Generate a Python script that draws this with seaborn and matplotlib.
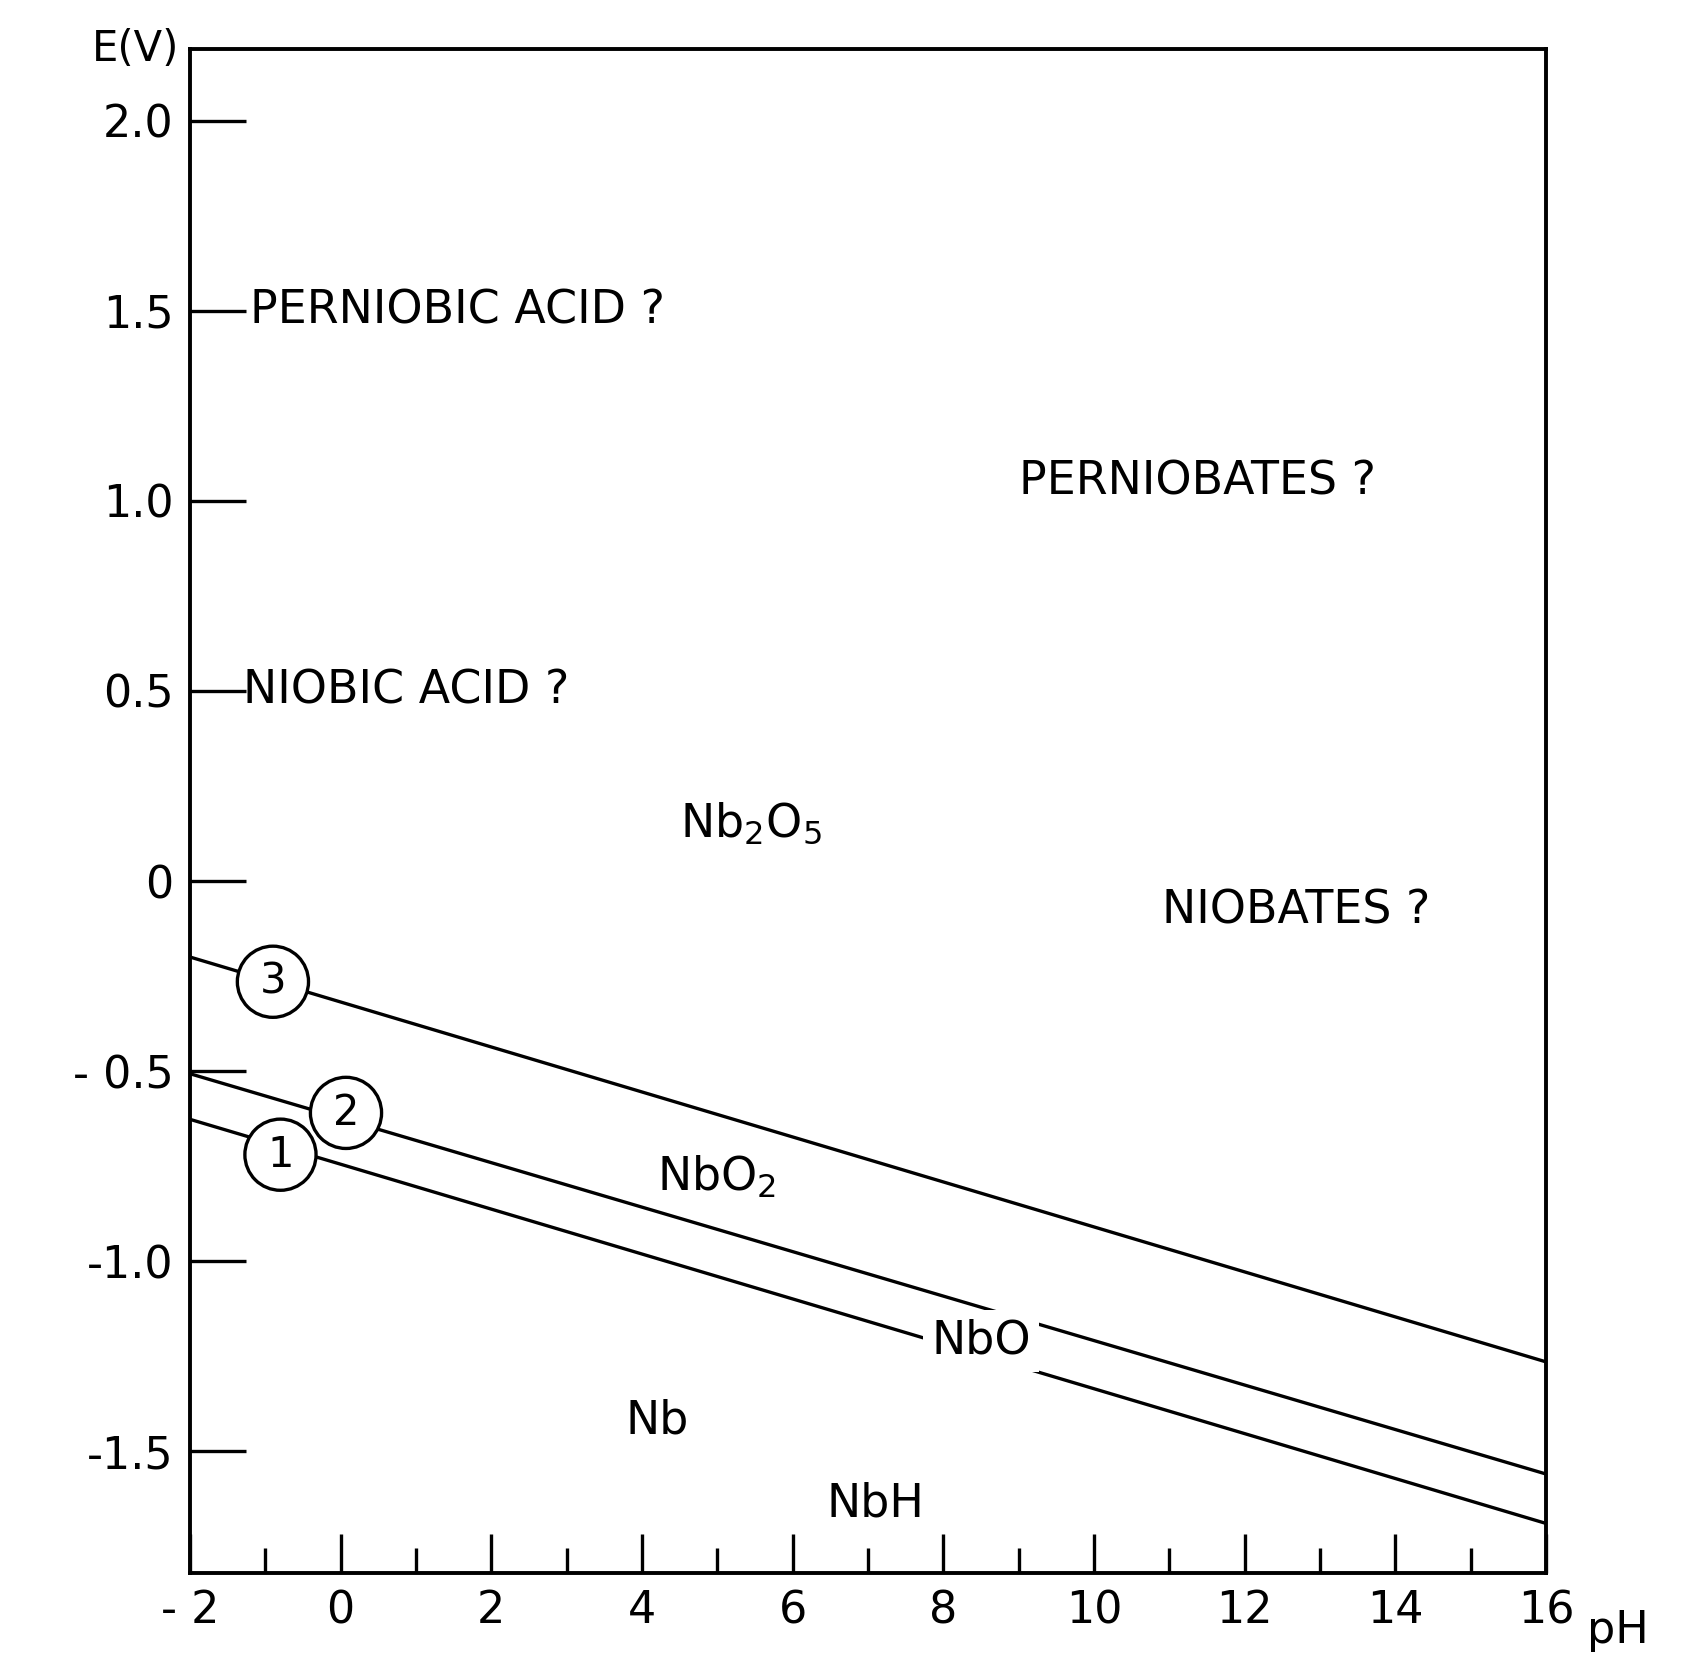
import numpy as np
import matplotlib
matplotlib.use("Agg")
import matplotlib.pyplot as plt
import seaborn as sns
import pandas as pd

sns.set_theme(style="white")
plt.rcParams['font.family'] = ['DejaVu Sans']
plt.rcParams['text.color'] = 'black'

ph = [-2, 16]
line1 = [-0.627, -1.69]
line2 = [-0.507, -1.56]
line3 = [-0.20, -1.265]
xtick_vals = list(range(-2, 17, 2))
xtick_labels = ["- 2", "0", "2", "4", "6", "8", "10", "12", "14", "16"]
ytick_vals = [2.0, 1.5, 1.0, 0.5, 0.0, -0.5, -1.0, -1.5]
ytick_labels = ["2.0", "1.5", "1.0", "0.5", "0", "- 0.5", "-1.0", "-1.5"]

fig = plt.figure(figsize=(16.97, 16.75), dpi=100)
ax = fig.add_axes([0.112, 0.061, 0.799, 0.91])
for name, ys in [("1", line1), ("2", line2), ("3", line3)]:
    df = pd.DataFrame({"pH": ph, "E": ys})
    sns.lineplot(data=df, x="pH", y="E", ax=ax, color="black", lw=2.4, zorder=2)
ax.set_xlim(-2, 16)
ax.set_ylim(-1.82, 2.19)
ax.set_xlabel(""); ax.set_ylabel("")
for s in ax.spines.values():
    s.set_color("black"); s.set_linewidth(2.8)
ax.set_xticks(xtick_vals)
ax.set_xticklabels(xtick_labels, fontsize=32)
ax.set_xticks(range(-1, 16, 2), minor=True)
ax.tick_params(axis="x", which="major", bottom=True, direction="in", length=28, width=2.4, pad=12, colors="black")
ax.tick_params(axis="x", which="minor", bottom=True, direction="in", length=18, width=2.4, colors="black")
ax.set_yticks(ytick_vals)
ax.set_yticklabels(ytick_labels, fontsize=32)
ax.tick_params(axis="y", left=True, direction="in", length=40, width=2.4, pad=12, colors="black")
ax.text(1.03, -0.024, "pH", transform=ax.transAxes, fontsize=32, va="top", ha="left")
ax.text(-0.008, 1.0, "E(V)", transform=ax.transAxes, fontsize=30, va="center", ha="right")

fs = 33
ax.text(-1.2, 1.5, "PERNIOBIC ACID ?", fontsize=fs, va="center")
ax.text(9.0, 1.05, "PERNIOBATES ?", fontsize=fs, va="center")
ax.text(-1.3, 0.5, "NIOBIC ACID ?", fontsize=fs, va="center")
ax.text(4.5, 0.15, "Nb$_2$O$_5$", fontsize=fs, va="center")
ax.text(10.9, -0.08, "NIOBATES ?", fontsize=fs, va="center")
ax.text(4.2, -0.78, "NbO$_2$", fontsize=fs, va="center",
        bbox=dict(facecolor="white", edgecolor="none", pad=2), zorder=3)
ax.text(8.5, -1.21, "NbO", fontsize=fs, va="center", ha="center",
        bbox=dict(facecolor="white", edgecolor="none", pad=6), zorder=3)
ax.text(4.2, -1.42, "Nb", fontsize=fs, va="center", ha="center")
ax.text(7.1, -1.64, "NbH", fontsize=fs, va="center", ha="center")
circ = dict(boxstyle="circle,pad=0.35", facecolor="white", edgecolor="black", lw=2.4)
ax.text(-0.9, -0.265, "3", fontsize=30, ha="center", va="center", bbox=circ, zorder=4)
ax.text(0.07, -0.61, "2", fontsize=30, ha="center", va="center", bbox=circ, zorder=4)
ax.text(-0.8, -0.72, "1", fontsize=30, ha="center", va="center", bbox=circ, zorder=5)

fig.savefig("out.png", dpi=100)
